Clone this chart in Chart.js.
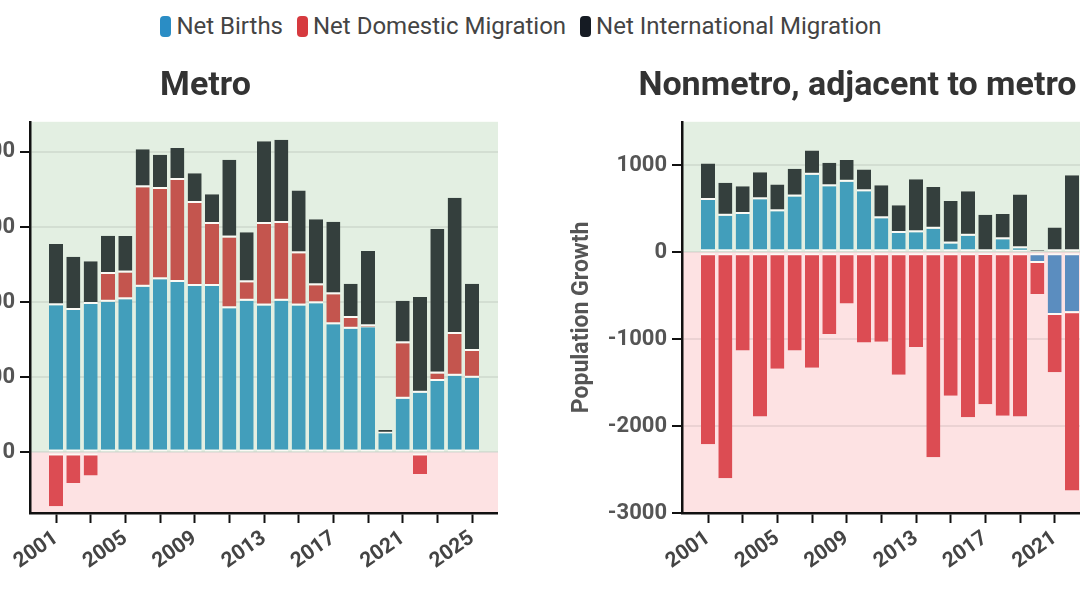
<!DOCTYPE html>
<html lang="en">
<head>
<meta charset="utf-8">
<title>Population Growth</title>
<script src="https://cdn.jsdelivr.net/npm/chart.js@4.4.1/dist/chart.umd.min.js"></script>
<style>
  html, body { margin: 0; padding: 0; width: 1080px; height: 593px; overflow: hidden; background: #fff; font-family: Roboto, sans-serif; }
  .legend { position: absolute; top: 12px; left: 0; width: 1042px; display: flex; justify-content: center; align-items: center; font-size: 24px; color: #444; }
  .legend .item { display: flex; align-items: center; margin: 0 7px; }
  .legend i { display: inline-block; width: 11px; height: 21px; border-radius: 4px; margin-right: 5px; }
  .panel { position: absolute; top: 50px; width: 585px; height: 543px; }
</style>
</head>
<body>
<div class="legend" id="legend"></div>
<div class="panel" style="left:-87px"><canvas id="metroChart"></canvas></div>
<div class="panel" style="left:565px"><canvas id="adjacentChart"></canvas></div>

<script>
// Years and series
const years = [2001, 2002, 2003, 2004, 2005, 2006, 2007, 2008, 2009, 2010, 2011, 2012, 2013,
               2014, 2015, 2016, 2017, 2018, 2019, 2020, 2021, 2022, 2023, 2024, 2025];
const tickYears = [2001, 2003, 2005, 2007, 2009, 2011, 2013, 2015, 2017, 2019, 2021, 2023, 2025];
const metroTicks = [0, 2000, 4000, 6000, 8000];
const adjacentTicks = [-3000, -2000, -1000, 0, 1000];

const seriesNames = ['Net Births', 'Net Domestic Migration', 'Net International Migration'];
const legendColors = ['#2a8dc5', '#d63a3f', '#151b23'];

const metroBirths = [3920, 3790, 3950, 4010, 4080, 4410, 4610, 4540, 4430, 4430, 3840, 4040, 3910,
                     4040, 3910, 3970, 3410, 3290, 3330, 510, 1430, 1590, 1900, 2040, 1990];
const metroDomestic = [-1430, -810, -610, 740, 710, 2650, 2400, 2710, 2210, 1650, 1880, 490, 2170,
                       2070, 1390, 480, 800, 290, 30, -20, 1480, -570, 200, 1110, 710];
const metroInternational = [1630, 1420, 1140, 1020, 970, 1010, 910, 850, 790, 790, 2070, 1330, 2200,
                            2210, 1670, 1760, 1930, 910, 2000, 90, 1130, 2550, 3850, 3630, 1790];

const adjacentBirths = [600, 420, 440, 610, 470, 640, 890, 760, 810, 700, 390, 220, 230,
                        270, 100, 190, -10, 150, 45, -100, -700, -680, null, null, null];
const adjacentDomestic = [-2210, -2600, -1130, -1890, -1340, -1130, -1330, -940, -590, -1040, -1030, -1410, -1090,
                          -2360, -1650, -1900, -1740, -1880, -1890, -380, -680, -2060, null, null, null];
const adjacentInternational = [420, 380, 320, 310, 310, 320, 280, 270, 250, 250, 380, 320, 610,
                               480, 490, 510, 430, 290, 620, 25, 285, 885, null, null, null];

Chart.defaults.font.family = 'Roboto';

// green above zero, pink below
const zoneBackground = {
    id: 'zoneBackground',
    beforeDraw(chart) {
        const { ctx, chartArea: a, scales: { y } } = chart;
        const zero = y.getPixelForValue(0);
        ctx.save();
        ctx.fillStyle = '#e3efe2';
        ctx.fillRect(a.left, a.top, a.right - a.left, zero - a.top);
        ctx.fillStyle = '#fde2e3';
        ctx.fillRect(a.left, zero, a.right - a.left, a.bottom - zero);
        ctx.restore();
    }
};

const Graficos = {
    init() {
        this.buildLegend();
        this.initPanel('metroChart', 'Metro',
            [metroBirths, metroDomestic, metroInternational], -1610, 8800, metroTicks);
        this.initPanel('adjacentChart', 'Nonmetro, adjacent to metro',
            [adjacentBirths, adjacentDomestic, adjacentInternational], -3000, 1500, adjacentTicks);
    },

    buildLegend() {
        const box = document.getElementById('legend');
        seriesNames.forEach((name, i) => {
            const item = document.createElement('span');
            item.className = 'item';
            item.innerHTML = '<i style="background:' + legendColors[i] + '"></i>' + name;
            box.appendChild(item);
        });
    },

    barColors: [
        c => c.raw < 0 ? '#5b8dbf' : '#429ebb',
        c => c.raw < 0 ? '#dc4c53' : '#c4554e',
        () => '#343f3d'
    ],

    initPanel(id, title, series, yMin, yMax, yTicks) {
        const ctx = document.getElementById(id);
        if (!ctx) return;

        const datasets = series.map((data, i) => ({
            label: seriesNames[i],
            data: data,
            stack: 'growth',
            backgroundColor: this.barColors[i],
            borderColor: 'rgba(252,250,245,0.95)',
            borderWidth: { top: 2, bottom: 2, left: 0, right: 0 },
            borderSkipped: 'end',
            barPercentage: 0.81,
            categoryPercentage: 1
        }));

        new Chart(ctx, {
            type: 'bar',
            data: { labels: years, datasets: datasets },
            plugins: [zoneBackground],
            options: {
                responsive: true,
                maintainAspectRatio: false,
                animation: false,
                layout: { padding: 0 },
                plugins: {
                    legend: { display: false },
                    tooltip: { enabled: false },
                    title: {
                        display: true,
                        text: title,
                        color: '#333',
                        font: { family: 'Roboto', size: 34, weight: 'bold' },
                        padding: { top: 16, bottom: 15 }
                    }
                },
                scales: {
                    x: {
                        type: 'linear',
                        min: 1999.5,
                        max: 2026.5,
                        offset: false,
                        stacked: true,
                        afterBuildTicks: s => { s.ticks = tickYears.map(v => ({ value: v })); },
                        afterFit: s => { s.height = 80; },
                        grid: {
                            display: true,
                            offset: false,
                            drawOnChartArea: false,
                            drawTicks: true,
                            tickLength: 10,
                            tickColor: '#111',
                            tickWidth: 2
                        },
                        border: { display: true, color: '#111', width: 2.5 },
                        ticks: {
                            autoSkip: false,
                            minRotation: 35,
                            maxRotation: 35,
                            padding: 3,
                            color: '#444',
                            font: { family: 'Roboto', size: 21, weight: 'bold' },
                            callback: v => (v - 2001) % 4 === 0 ? String(v) : ''
                        }
                    },
                    y: {
                        min: yMin,
                        max: yMax,
                        stacked: true,
                        afterBuildTicks: s => { s.ticks = yTicks.map(v => ({ value: v })); },
                        afterFit: s => { s.width = 117; },
                        grid: {
                            color: 'rgba(0,0,0,0.07)',
                            lineWidth: 2,
                            drawTicks: true,
                            tickLength: 10,
                            tickColor: '#111',
                            tickWidth: 2
                        },
                        border: { display: true, color: '#111', width: 2.5 },
                        ticks: {
                            padding: 5,
                            color: '#555',
                            font: { family: 'Roboto', size: 22, weight: 'bold' },
                            callback: v => String(v)
                        },
                        title: {
                            display: true,
                            text: 'Population Growth',
                            color: '#555',
                            font: { family: 'Roboto', size: 23, weight: 'bold' },
                            padding: { top: 3, bottom: 0 }
                        }
                    }
                }
            }
        });
    }
};

document.addEventListener('DOMContentLoaded', () => {
    Graficos.init();
});
</script>
</body>
</html>
